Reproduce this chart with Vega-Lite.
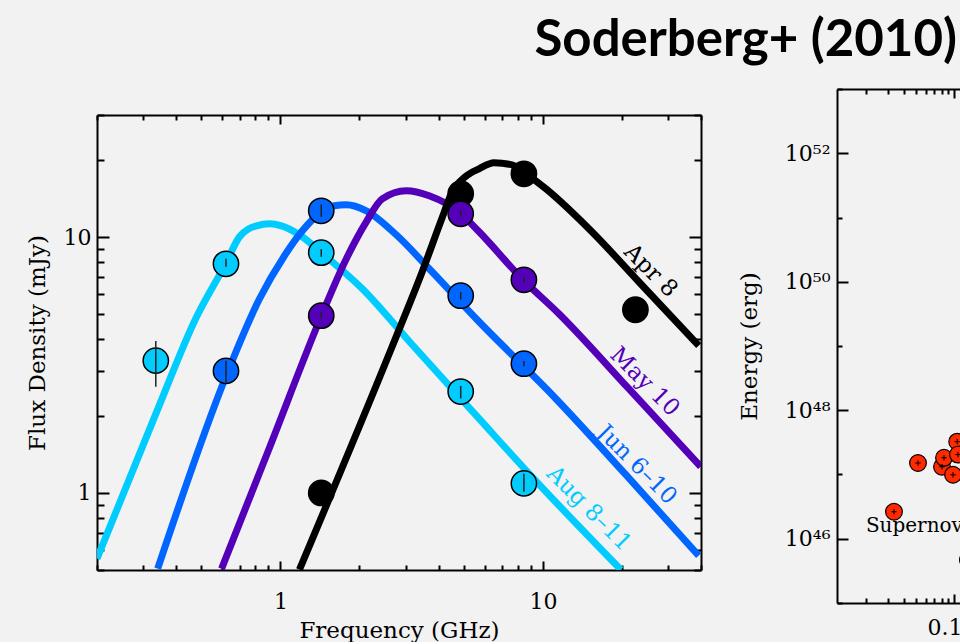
{
  "$schema": "https://vega.github.io/schema/vega-lite/v6.json",
  "background": "#f2f2f2",
  "padding": {"left": 26, "top": 15, "right": 0, "bottom": 0},
  "title": {"text": "Soderberg+ (2010)", "anchor": "end", "frame": "bounds", "font": "Lato", "fontSize": 51, "fontWeight": "bold", "color": "#000000", "baseline": "alphabetic", "offset": -29, "dx": -5},
  "datasets": {
    "curves": [
      {"s": "Aug 8–11", "f": 0.2, "S": 0.554},
      {"s": "Aug 8–11", "f": 0.3377, "S": 2.078},
      {"s": "Aug 8–11", "f": 0.4752, "S": 4.797},
      {"s": "Aug 8–11", "f": 0.6178, "S": 7.864},
      {"s": "Aug 8–11", "f": 0.6983, "S": 10.03},
      {"s": "Aug 8–11", "f": 0.8103, "S": 11.07},
      {"s": "Aug 8–11", "f": 0.9082, "S": 11.27},
      {"s": "Aug 8–11", "f": 1.0088, "S": 11.07},
      {"s": "Aug 8–11", "f": 1.181, "S": 10.21},
      {"s": "Aug 8–11", "f": 1.432, "S": 8.685},
      {"s": "Aug 8–11", "f": 2.05, "S": 6.281},
      {"s": "Aug 8–11", "f": 3.177, "S": 3.795},
      {"s": "Aug 8–11", "f": 5.71, "S": 1.951},
      {"s": "Aug 8–11", "f": 8.848, "S": 1.19},
      {"s": "Aug 8–11", "f": 19.8, "S": 0.5016},
      {"s": "Jun 6–10", "f": 0.3406, "S": 0.506},
      {"s": "Jun 6–10", "f": 0.6233, "S": 2.898},
      {"s": "Jun 6–10", "f": 0.8321, "S": 5.741},
      {"s": "Jun 6–10", "f": 1.0356, "S": 8.453},
      {"s": "Jun 6–10", "f": 1.212, "S": 10.58},
      {"s": "Jun 6–10", "f": 1.432, "S": 12.56},
      {"s": "Jun 6–10", "f": 1.604, "S": 13.26},
      {"s": "Jun 6–10", "f": 1.782, "S": 13.38},
      {"s": "Jun 6–10", "f": 2.123, "S": 12.67},
      {"s": "Jun 6–10", "f": 2.761, "S": 10.21},
      {"s": "Jun 6–10", "f": 3.686, "S": 7.519},
      {"s": "Jun 6–10", "f": 5.71, "S": 4.669},
      {"s": "Jun 6–10", "f": 11.2, "S": 2.335},
      {"s": "Jun 6–10", "f": 20.68, "S": 1.179},
      {"s": "Jun 6–10", "f": 39.2, "S": 0.5689},
      {"s": "May 10", "f": 0.5965, "S": 0.506},
      {"s": "May 10", "f": 0.908, "S": 1.503},
      {"s": "May 10", "f": 1.432, "S": 4.927},
      {"s": "May 10", "f": 1.782, "S": 8.228},
      {"s": "May 10", "f": 2.123, "S": 11.47},
      {"s": "May 10", "f": 2.442, "S": 14.11},
      {"s": "May 10", "f": 3.014, "S": 15.17},
      {"s": "May 10", "f": 3.686, "S": 14.5},
      {"s": "May 10", "f": 4.877, "S": 12.33},
      {"s": "May 10", "f": 5.71, "S": 10.49},
      {"s": "May 10", "f": 8.395, "S": 6.811},
      {"s": "May 10", "f": 11.5, "S": 5.017},
      {"s": "May 10", "f": 21.23, "S": 2.555},
      {"s": "May 10", "f": 39.89, "S": 1.267},
      {"s": "Apr 8", "f": 1.181, "S": 0.5016},
      {"s": "Apr 8", "f": 2.643, "S": 3.662},
      {"s": "Apr 8", "f": 3.467, "S": 7.32},
      {"s": "Apr 8", "f": 4.13, "S": 11.9},
      {"s": "Apr 8", "f": 4.508, "S": 15.03},
      {"s": "Apr 8", "f": 5.051, "S": 17.2},
      {"s": "Apr 8", "f": 5.71, "S": 18.49},
      {"s": "Apr 8", "f": 6.512, "S": 19.51},
      {"s": "Apr 8", "f": 7.623, "S": 19.16},
      {"s": "Apr 8", "f": 8.848, "S": 17.36},
      {"s": "Apr 8", "f": 10.26, "S": 15.44},
      {"s": "Apr 8", "f": 15.36, "S": 10.49},
      {"s": "Apr 8", "f": 23.17, "S": 6.69},
      {"s": "Apr 8", "f": 39.2, "S": 3.762}
    ],
    "pts": [
      {"s": "Apr 8", "f": 1.43, "S": 1.0},
      {"s": "Apr 8", "f": 4.86, "S": 14.77},
      {"s": "Apr 8", "f": 8.46, "S": 17.67},
      {"s": "Apr 8", "f": 22.5, "S": 5.2},
      {"s": "Aug 8–11", "f": 0.335, "S": 3.29, "lo": 2.6, "hi": 3.93},
      {"s": "Aug 8–11", "f": 0.62, "S": 7.86, "lo": 7.66, "hi": 8.23},
      {"s": "Aug 8–11", "f": 1.43, "S": 8.69, "lo": 8.38, "hi": 8.97},
      {"s": "Aug 8–11", "f": 4.86, "S": 2.49, "lo": 2.34, "hi": 2.62},
      {"s": "Aug 8–11", "f": 8.46, "S": 1.09, "lo": 1.01, "hi": 1.19},
      {"s": "Jun 6–10", "f": 0.62, "S": 3.0, "lo": 2.7, "hi": 3.29},
      {"s": "Jun 6–10", "f": 1.43, "S": 12.67, "lo": 12.0, "hi": 13.4},
      {"s": "Jun 6–10", "f": 4.86, "S": 5.9, "lo": 5.7, "hi": 6.1},
      {"s": "Jun 6–10", "f": 8.46, "S": 3.2, "lo": 3.12, "hi": 3.28},
      {"s": "May 10", "f": 1.43, "S": 4.93, "lo": 4.8, "hi": 5.1},
      {"s": "May 10", "f": 4.86, "S": 12.33, "lo": 12.0, "hi": 12.7},
      {"s": "May 10", "f": 8.46, "S": 6.81, "lo": 6.65, "hi": 6.97}
    ],
    "lbl": [
      {"s": "Apr 8", "f": 25.74, "S": 7.386, "t": "Apr 8"},
      {"s": "May 10", "f": 24.42, "S": 2.72, "t": "May 10"},
      {"s": "Jun 6–10", "f": 22.78, "S": 1.29, "t": "Jun 6–10"},
      {"s": "Aug 8–11", "f": 14.96, "S": 0.8685, "t": "Aug 8–11"}
    ],
    "sn": [
      {"k": "sn", "v": 0.0334, "E": 2.63e46},
      {"k": "sn", "v": 0.0518, "E": 1.51e47},
      {"k": "sn", "v": 0.0803, "E": 1.32e47},
      {"k": "sn", "v": 0.0833, "E": 1.82e47},
      {"k": "sn", "v": 0.0982, "E": 9.9e46},
      {"k": "sn", "v": 0.106, "E": 3.24e47},
      {"k": "sn", "v": 0.1075, "E": 2.04e47},
      {"k": "other", "v": 0.129, "E": 4.7e45}
    ],
    "snlbl": [
      {"v": 0.02, "E": 1.6e46, "t": "Supernovae"}
    ],
    "none": []
  },
  "spacing": 36,
  "hconcat": [
    {
      "spacing": 0,
      "vconcat": [
        {
          "width": 604,
          "height": 15,
          "data": {"name": "none"},
          "mark": "point"
        },
        {
          "width": 604,
          "height": 455,
          "resolve": {"axis": {"x": "independent", "y": "independent"}},
          "layer": [
            {
              "data": {"name": "curves"},
              "mark": {"type": "line", "strokeWidth": 7, "interpolate": "monotone", "clip": true},
              "encoding": {
                "x": {"field": "f", "type": "quantitative", "scale": {"type": "log", "domain": [0.2, 40]},
                  "axis": {"orient": "bottom", "values": [0.2, 0.3, 0.4, 0.5, 0.6, 0.7, 0.8, 0.9, 1, 2, 3, 4, 5, 6, 7, 8, 9, 10, 20, 30, 40],
                    "labelExpr": "datum.value == 1 ? '1' : datum.value == 10 ? '10' : ''",
                    "tickSize": {"condition": {"test": "datum.value == 1 || datum.value == 10", "value": -9}, "value": -5},
                    "labelPadding": 30, "title": "Frequency (GHz)", "titlePadding": 3}},
                "y": {"field": "S", "type": "quantitative", "scale": {"type": "log", "domain": [0.5, 30]},
                  "axis": {"orient": "left", "values": [0.5, 0.6, 0.7, 0.8, 0.9, 1, 2, 3, 4, 5, 6, 7, 8, 9, 10, 20, 30],
                    "labelExpr": "datum.value == 1 ? '1' : datum.value == 10 ? '10' : ''",
                    "tickSize": {"condition": {"test": "datum.value == 1 || datum.value == 10", "value": -12}, "value": -7},
                    "labelPadding": 18, "title": "Flux Density (mJy)", "titlePadding": 14}},
                "color": {"field": "s", "type": "nominal", "scale": {"domain": ["Apr 8", "May 10", "Jun 6–10", "Aug 8–11"], "range": ["#000000", "#5300b8", "#0066ff", "#00ccff"]}, "legend": null}
              }
            },
            {
              "data": {"name": "pts"},
              "mark": {"type": "point", "filled": true, "size": 640, "stroke": "#000000", "strokeWidth": 1.5, "opacity": 1, "clip": true},
              "encoding": {
                "x": {"field": "f", "type": "quantitative", "scale": {"type": "log", "domain": [0.2, 40]},
                  "axis": {"orient": "top", "values": [0.2, 0.3, 0.4, 0.5, 0.6, 0.7, 0.8, 0.9, 1, 2, 3, 4, 5, 6, 7, 8, 9, 10, 20, 30, 40], "labels": false,
                    "tickSize": {"condition": {"test": "datum.value == 1 || datum.value == 10", "value": -9}, "value": -5}, "title": null}},
                "y": {"field": "S", "type": "quantitative", "scale": {"type": "log", "domain": [0.5, 30]},
                  "axis": {"orient": "right", "values": [0.5, 0.6, 0.7, 0.8, 0.9, 1, 2, 3, 4, 5, 6, 7, 8, 9, 10, 20, 30], "labels": false,
                    "tickSize": {"condition": {"test": "datum.value == 1 || datum.value == 10", "value": -12}, "value": -7}, "title": null}},
                "color": {"field": "s", "type": "nominal", "scale": {"domain": ["Apr 8", "May 10", "Jun 6–10", "Aug 8–11"], "range": ["#000000", "#5300b8", "#0066ff", "#00ccff"]}, "legend": null}
              }
            },
            {
              "data": {"name": "pts"},
              "transform": [{"filter": "isValid(datum.lo)"}],
              "mark": {"type": "rule", "stroke": "#222222", "strokeWidth": 1.5},
              "encoding": {
                "x": {"field": "f", "type": "quantitative", "scale": {"type": "log", "domain": [0.2, 40]}, "axis": null},
                "y": {"field": "lo", "type": "quantitative", "scale": {"type": "log", "domain": [0.5, 30]}, "axis": null},
                "y2": {"field": "hi"}
              }
            },
            {
              "data": {"name": "lbl"},
              "mark": {"type": "text", "angle": 45, "font": "DejaVu Serif", "fontSize": 23, "align": "center", "baseline": "middle"},
              "encoding": {
                "x": {"field": "f", "type": "quantitative", "scale": {"type": "log", "domain": [0.2, 40]}, "axis": null},
                "y": {"field": "S", "type": "quantitative", "scale": {"type": "log", "domain": [0.5, 30]}, "axis": null},
                "text": {"field": "t"},
                "color": {"field": "s", "type": "nominal", "scale": {"domain": ["Apr 8", "May 10", "Jun 6–10", "Aug 8–11"], "range": ["#000000", "#5300b8", "#0066ff", "#00ccff"]}, "legend": null}
              }
            }
          ]
        }
      ]
    },
    {
      "width": 125,
      "height": 514,
      "resolve": {"axis": {"x": "independent", "y": "independent"}},
      "layer": [
        {
          "data": {"name": "sn"},
          "mark": {"type": "point", "filled": true, "size": 280, "stroke": "#000000", "strokeWidth": 1.2, "opacity": 1, "clip": true},
          "encoding": {
            "x": {"field": "v", "type": "quantitative", "scale": {"type": "log", "domain": [0.0118, 0.1157]},
              "axis": {"orient": "bottom", "values": [0.02, 0.03, 0.04, 0.05, 0.06, 0.07, 0.08, 0.09, 0.1],
                "labelExpr": "datum.value == 0.1 ? '0.1' : ''",
                "tickSize": {"condition": {"test": "datum.value == 0.1", "value": -9}, "value": -5},
                "labelPadding": 23, "labelFlush": 10, "labelFlushOffset": 8, "title": null}},
            "y": {"field": "E", "type": "quantitative", "scale": {"type": "log", "domain": [1e45, 1e53]},
              "axis": {"orient": "left", "values": [1e45, 1e46, 1e47, 1e48, 1e49, 1e50, 1e51, 1e52, 1e53],
                "labelExpr": "round(log(datum.value)/LN10) == 46 ? '10⁴⁶' : round(log(datum.value)/LN10) == 48 ? '10⁴⁸' : round(log(datum.value)/LN10) == 50 ? '10⁵⁰' : round(log(datum.value)/LN10) == 52 ? '10⁵²' : ''",
                "tickSize": {"condition": {"test": "round(log(datum.value)/LN10) % 2 == 0", "value": -11}, "value": -5},
                "labelPadding": 18, "labelFontSize": 22, "title": "Energy (erg)", "titlePadding": 23}},
            "fill": {"field": "k", "type": "nominal", "scale": {"domain": ["sn", "other"], "range": ["#ff2a00", "#6b1d0f"]}, "legend": null}
          }
        },
        {
          "data": {"name": "sn"},
          "mark": {"type": "point", "shape": "M-1,0H1M0,-1V1", "size": 30, "filled": false, "stroke": "#000000", "strokeWidth": 1, "opacity": 1, "clip": true},
          "encoding": {
            "x": {"field": "v", "type": "quantitative", "scale": {"type": "log", "domain": [0.0118, 0.1157]},
              "axis": {"orient": "top", "values": [0.02, 0.03, 0.04, 0.05, 0.06, 0.07, 0.08, 0.09, 0.1], "labels": false,
                "tickSize": {"condition": {"test": "datum.value == 0.1", "value": -9}, "value": -5}, "title": null}},
            "y": {"field": "E", "type": "quantitative", "scale": {"type": "log", "domain": [1e45, 1e53]}, "axis": null}
          }
        },
        {
          "data": {"name": "snlbl"},
          "mark": {"type": "text", "font": "DejaVu Serif", "fontSize": 20, "align": "left", "baseline": "middle", "color": "#000000", "clip": true},
          "encoding": {
            "x": {"field": "v", "type": "quantitative", "scale": {"type": "log", "domain": [0.0118, 0.1157]}, "axis": null},
            "y": {"field": "E", "type": "quantitative", "scale": {"type": "log", "domain": [1e45, 1e53]}, "axis": null},
            "text": {"field": "t"}
          }
        }
      ]
    }
  ],
  "config": {
    "view": {"stroke": null},
    "axis": {"domainColor": "#000000", "domainWidth": 2, "tickColor": "#000000", "tickWidth": 2, "labelColor": "#000000", "titleColor": "#000000", "labelFont": "DejaVu Serif", "titleFont": "DejaVu Serif", "labelFontSize": 22, "titleFontSize": 23, "titleFontWeight": "normal", "grid": false, "labelOverlap": false}
  }
}
